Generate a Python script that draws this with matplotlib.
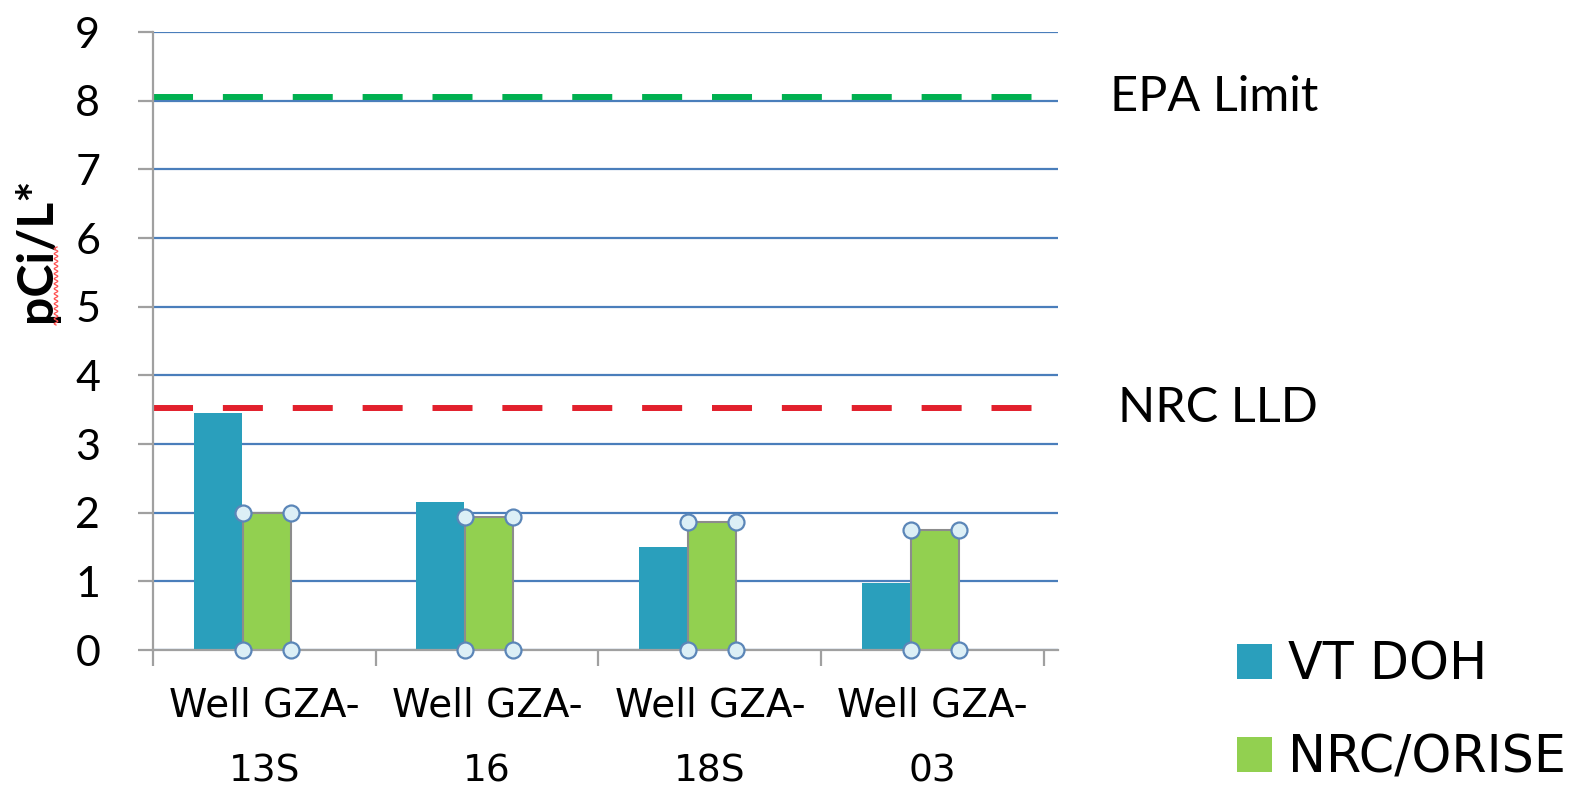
import numpy as np
import matplotlib.pyplot as plt
from matplotlib.patches import Patch
from matplotlib.lines import Line2D
import matplotlib.transforms as mtransforms

# data
wells = ["Well GZA-13S", "Well GZA-16", "Well GZA-18S", "Well GZA-03"]
vt_doh = [3.45, 2.15, 1.50, 0.98]
nrc_orise = [2.00, 1.94, 1.86, 1.75]
epa_limit = 8.05
nrc_lld = 3.52
yticks = list(range(0, 10))

teal = '#2a9fbc'
green = '#92d050'
grid_blue = '#4a7ebb'
axis_grey = '#a0a0a0'

fig = plt.figure(figsize=(15.87, 7.92), dpi=100)
ax = fig.add_axes([153 / 1587, 1 - 650 / 792, 905 / 1587, 618 / 792])

x = np.arange(len(wells))
w = 0.215
ax.bar(x - 0.21, vt_doh, width=w, color=teal, zorder=2)
ax.bar(x + 0.01, nrc_orise, width=w, color=green, edgecolor='#8c8c8c',
       linewidth=1.5, zorder=2)

# selection handles on the green bars (screenshot artefact)
hx = np.concatenate([x + 0.01 - w / 2, x + 0.01 + w / 2] * 2)
hy = np.concatenate([np.zeros(4), np.zeros(4), nrc_orise, nrc_orise])
ax.plot(hx, hy, 'o', ms=11.5, mfc='#dceff6', mec='#5b86b8', mew=1.6,
        ls='none', zorder=5, clip_on=False)

# reference lines
ax.axhline(epa_limit, color='#00b050', lw=4.3, dashes=(6.7, 5),
           dash_capstyle='butt', zorder=3)
ax.axhline(nrc_lld, color='#e2202c', lw=4.3, dashes=(6.7, 5),
           dash_capstyle='butt', zorder=3)

ax.set_xlim(-0.5, 3.563)
ax.set_ylim(0, 9)
ax.set_yticks(yticks)
ax.set_xticks(np.arange(-0.5, 4, 1))
ax.set_xticklabels([])
ax.yaxis.grid(True, color=grid_blue, lw=1.6)
ax.set_axisbelow(True)

for s in ['top', 'right']:
    ax.spines[s].set_visible(False)
for s in ['left', 'bottom']:
    ax.spines[s].set_color(axis_grey)
    ax.spines[s].set_linewidth(1.6)
    ax.spines[s].set_zorder(4)

ax.tick_params(axis='y', length=11, width=1.6, color=axis_grey, pad=27,
               labelsize=31)
ax.tick_params(axis='x', length=11.5, width=1.6, color=axis_grey)
for lab in ax.get_yticklabels():
    lab.set_fontfamily('Lato')

# category labels, wrapped on the dash
trans = mtransforms.blended_transform_factory(ax.transData, ax.transAxes)
for xi, name in zip(x, wells):
    top, bottom = name.split('-')
    ax.text(xi, -0.090, top + '-', transform=trans, ha='center', va='center',
            fontsize=28, family='DejaVu Sans')
    ax.text(xi, -0.196, bottom, transform=trans, ha='center', va='center',
            fontsize=27, family='DejaVu Sans')

ax.set_ylabel('pCi/L*', fontsize=36, fontweight='bold', family='Lato')
ax.yaxis.label.set(ha='center', va='center')
ax.yaxis.set_label_coords((36 - 153) / 905, (650 - 250) / 618)

# line labels
ltrans = mtransforms.blended_transform_factory(ax.transAxes, ax.transData)
ax.text(1.0575, epa_limit, 'EPA Limit', transform=ltrans, va='center',
        ha='left', fontsize=35, family='Lato')
ax.text(1.066, nrc_lld, 'NRC LLD', transform=ltrans, va='center',
        ha='left', fontsize=35, family='Lato')

# legend
handles = [Patch(facecolor=teal, label='VT DOH'),
           Patch(facecolor=green, label='NRC/ORISE')]
fig.legend(handles=handles, loc='upper left',
           bbox_to_anchor=(1237 / 1587, 1 - 640 / 792), frameon=False,
           prop={'family': 'DejaVu Sans', 'size': 36.5},
           handlelength=0.7, handleheight=0.7, handletextpad=0.3,
           labelspacing=0.85, borderpad=0, borderaxespad=0)

# red spell-check squiggle under "pCi"
yy = np.linspace(247, 325, 200)
xx = 56 + 1.8 * np.sin(yy * 2 * np.pi / 5)
fig.add_artist(Line2D(xx / 1587, 1 - yy / 792, color='#ff5050', lw=0.9,
                      transform=fig.transFigure))

fig.savefig('out.png', dpi=100)
